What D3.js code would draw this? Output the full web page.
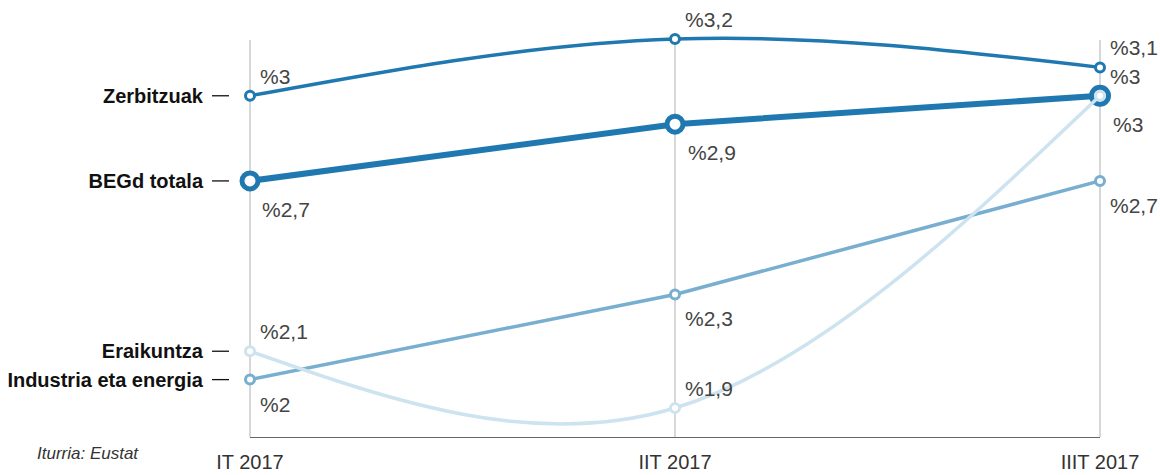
<!DOCTYPE html>
<html>
<head>
<meta charset="utf-8">
<script src="https://cdn.jsdelivr.net/npm/d3@7"></script>
<style>
  body { margin: 0; background: #fff; }
  svg text { font-family: "Liberation Sans", Arial, sans-serif; }
</style>
</head>
<body>
<svg id="chart" width="1160" height="475"></svg>
<script>
const periods = ["IT 2017", "IIT 2017", "IIIT 2017"];
const zerbitzuak = [3.0, 3.2, 3.1];
const begd = [2.7, 2.9, 3.0];
const industria = [2.0, 2.3, 2.7];
const eraikuntza = [2.1, 1.9, 3.0];
const valueLabels = {
  zerbitzuak: ["%3", "%3,2", "%3,1"],
  begd: ["%2,7", "%2,9", "%3"],
  industria: ["%2", "%2,3", "%2,7"],
  eraikuntza: ["%2,1", "%1,9", "%3"]
};

const svg = d3.select("#chart");

const x = d3.scalePoint().domain(periods).range([250, 1100]);
const y = d3.scaleLinear().domain([1.9, 3.2]).range([408, 39]);

// vertical grid lines
svg.append("g")
  .selectAll("line")
  .data(periods)
  .join("line")
  .attr("x1", d => x(d)).attr("x2", d => x(d))
  .attr("y1", 40).attr("y2", 437)
  .attr("stroke", "#b0b0b0")
  .attr("stroke-width", 1);

// bottom axis line
svg.append("line")
  .attr("x1", x(periods[0])).attr("x2", x(periods[2]))
  .attr("y1", 437.5).attr("y2", 437.5)
  .attr("stroke", "#666");

// x tick labels
svg.append("g")
  .selectAll("text")
  .data(periods)
  .join("text")
  .attr("x", d => x(d))
  .attr("y", 469)
  .attr("text-anchor", "middle")
  .attr("font-size", 20)
  .attr("fill", "#333")
  .text(d => d);

svg.append("text")
  .attr("x", 37).attr("y", 459)
  .attr("font-size", 17)
  .attr("font-style", "italic")
  .attr("fill", "#333")
  .text("Iturria: Eustat");

const series = [
  { name: "Zerbitzuak", values: zerbitzuak, labels: valueLabels.zerbitzuak, color: "#1f78b0", width: 3.5, r: [4.5, 4.5, 4.5], curve: d3.curveNatural,
    off: [[10, -12], [10, -12], [10, -12]] },
  { name: "BEGd totala", values: begd, labels: valueLabels.begd, color: "#1f78b0", width: 6, r: [8, 8, 8.5], curve: d3.curveLinear,
    off: [[12, 36], [13, 36], [13, 36]] },
  { name: "Industria eta energia", values: industria, labels: valueLabels.industria, color: "#78aecf", width: 3.5, r: [4.5, 4.5, 4.5], curve: d3.curveLinear,
    off: [[10, 32], [10, 32], [10, 32]] },
  { name: "Eraikuntza", values: eraikuntza, labels: valueLabels.eraikuntza, color: "#cde3ef", width: 3.5, r: [4.5, 4.5, 4.5], curve: d3.curveNatural,
    off: [[10, -12], [10, -12], [10, -12]] }
];

series.forEach(s => {
  const pts = s.values.map((v, i) => [x(periods[i]), y(v)]);
  svg.append("path")
    .datum(pts)
    .attr("fill", "none")
    .attr("stroke", s.color)
    .attr("stroke-width", s.width)
    .attr("d", d3.line().curve(s.curve));

  svg.append("g")
    .selectAll("circle")
    .data(pts)
    .join("circle")
    .attr("cx", d => d[0])
    .attr("cy", d => d[1])
    .attr("r", (d, i) => s.r[i])
    .attr("fill", "#fff")
    .attr("stroke", s.color)
    .attr("stroke-width", s.width === 6 ? 5 : 3);

  // left legend label
  const y0 = y(s.values[0]);
  svg.append("text")
    .attr("x", 203).attr("y", y0 + 7)
    .attr("text-anchor", "end")
    .attr("font-size", 20)
    .attr("font-weight", "bold")
    .attr("fill", "#111")
    .text(s.name);
  svg.append("line")
    .attr("x1", 212).attr("x2", 229)
    .attr("y1", y0).attr("y2", y0)
    .attr("stroke", "#111")
    .attr("stroke-width", 1.3);
});

// value labels
series.forEach(s => {
  svg.append("g")
    .selectAll("text")
    .data(s.values)
    .join("text")
    .attr("x", (d, i) => x(periods[i]) + s.off[i][0])
    .attr("y", (d, i) => y(d) + s.off[i][1])
    .attr("font-size", 21)
    .attr("fill", "#444")
    .text((d, i) => s.labels[i]);
});
</script>
</body>
</html>
